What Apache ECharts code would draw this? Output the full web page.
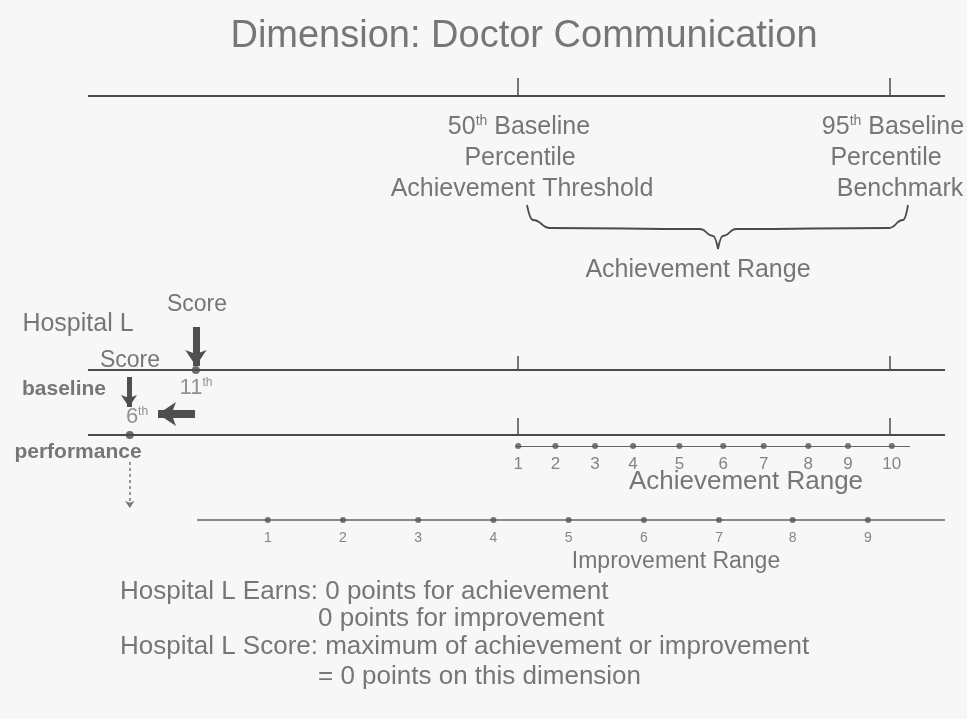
<!DOCTYPE html>
<html>
<head>
  <meta charset="UTF-8">
  <title>Dimension: Doctor Communication</title>
  <script src="https://cdn.jsdelivr.net/npm/echarts@6/dist/echarts.min.js"></script>
  <style>html, body { margin: 0; padding: 0; background: #f7f7f7; }</style>
</head>
<body>
  <div id="main" style="width:967px; height:719px;"></div>
  <script>
    // percentile markers on the baseline scale
    var thresholds = [50, 95];
    var thresholdLabels = ['50', '95'];
    var hospitalScore = 11;        // performance period percentile
    var hospitalBaseline = 6;      // baseline percentile
    var baselineDrawnAt = 3;       // the slide does not draw the baseline to scale
    // achievement points 1..10 between threshold and benchmark
    var achievementPoints = ['1', '2', '3', '4', '5', '6', '7', '8', '9', '10'];
    var achievementPos = [50.0, 54.5, 59.3, 63.9, 69.5, 74.8, 79.7, 85.1, 89.9, 95.2];
    // improvement points 1..9
    var improvementPoints = ['1', '2', '3', '4', '5', '6', '7', '8', '9'];
    var improvementPos = [19.7, 28.8, 37.9, 47.0, 56.1, 65.2, 74.3, 83.2, 92.3];
    var earned = { achievement: 0, improvement: 0, total: 0 };

    var W = 967, H = 719, XMIN = -12.7, XMAX = 104.3;
    function px(x) { return XMIN + x * (XMAX - XMIN) / W; }   // pixel column -> percentile axis

    var INK = '#4b4b4b', TXT = '#555555', FONT = 'Liberation Sans, Arial, sans-serif';
    var rowTop = 96, rowScore = 370, rowBase = 435, rowAch = 446, rowImp = 520;

    var segs = [];
    function seg(a, b, style) { segs.push({ coords: [a, b], lineStyle: style || {} }); }
    seg([px(88), rowTop], [px(945), rowTop]);
    seg([px(88), rowScore], [px(945), rowScore]);
    seg([px(88), rowBase], [px(945), rowBase]);
    thresholds.forEach(function (t) {
      seg([t, rowTop - 18], [t, rowTop], { width: 1.5 });
      seg([t, rowScore - 14], [t, rowScore], { width: 1.5 });
      seg([t, rowBase - 17], [t, rowBase], { width: 1.5 });
    });
    seg([px(515), rowAch], [px(910), rowAch], { width: 1.2, color: '#666' });
    seg([px(197), rowImp], [px(945), rowImp], { width: 1.6, color: '#666' });

    var texts = [];
    function txt(s, x, y, size, opt) {
      opt = opt || {};
      texts.push({
        value: [px(x), y],
        label: {
          formatter: s, fontSize: size, color: opt.color || TXT, fontFamily: FONT,
          fontWeight: opt.weight || 'normal', align: opt.align || 'center',
          verticalAlign: 'middle', position: 'inside',
          rich: { sup: { fontSize: Math.round(size * 0.55), verticalAlign: 'top', fontFamily: FONT, color: opt.color || TXT } }
        }
      });
    }
    txt('Dimension: Doctor Communication', 524, 37, 38);
    txt(thresholdLabels[0] + '{sup|th} Baseline', 519, 127, 25);
    txt('Percentile', 520, 158, 25);
    txt('Achievement Threshold', 522, 189, 25);
    txt(thresholdLabels[1] + '{sup|th} Baseline', 893, 127, 25);
    txt('Percentile', 886, 158, 25);
    txt('Benchmark', 900, 189, 25);
    txt('Achievement Range', 698, 270, 25);
    txt('Score', 197, 305, 23);
    txt('Hospital L', 78, 324, 25);
    txt('Score', 130, 361, 23);
    txt('baseline', 64, 389, 21, { weight: 'bold' });
    txt(hospitalScore + '{sup|th}', 196, 388, 22, { color: '#777' });
    txt(hospitalBaseline + '{sup|th}', 137, 417, 22, { color: '#777' });
    txt('performance', 78, 452, 21, { weight: 'bold' });
    txt('Achievement Range', 746, 482, 26);
    txt('Improvement Range', 676, 562, 23);
    txt('Hospital L Earns: ' + earned.achievement + ' points for achievement', 120, 592, 26, { align: 'left' });
    txt(earned.improvement + ' points for improvement', 318, 619, 26, { align: 'left' });
    txt('Hospital L Score: maximum of achievement or improvement', 120, 647, 26, { align: 'left' });
    txt('= ' + earned.total + ' points on this dimension', 318, 677, 26, { align: 'left' });

    var achLabels = achievementPos.map(function (p, i) {
      return { value: [p, 464], label: { formatter: achievementPoints[i] } };
    });
    var impLabels = improvementPos.map(function (p, i) {
      return { value: [p, 538], label: { formatter: improvementPoints[i] } };
    });

    var arrows = [
      { coords: [[hospitalScore, 327], [hospitalScore, 366]], lineStyle: { width: 7 }, symbolSize: 16 },
      { coords: [[px(129), 377], [px(129), 407]], lineStyle: { width: 5 }, symbolSize: 12 },
      { coords: [[px(195), 414], [px(158), 414]], lineStyle: { width: 8 }, symbolSize: 18 },
      { coords: [[baselineDrawnAt, 462], [baselineDrawnAt, 508]], lineStyle: { width: 1.5, type: [3, 3], color: '#777' }, symbolSize: 7 }
    ];

    var braceL = [[px(527), 205], [px(533), 220], [px(550), 228], [px(700), 229], [px(713), 236], [px(718), 249]];
    var braceR = [[px(718), 249], [px(723), 236], [px(736), 229], [px(889), 228], [px(903), 220], [px(908), 205]];

    var chart = echarts.init(document.getElementById('main'), null, { renderer: 'canvas' });
    chart.setOption({
      backgroundColor: '#f7f7f7',
      animation: false,
      grid: { left: 0, right: 0, top: 0, bottom: 0 },
      xAxis: { type: 'value', min: XMIN, max: XMAX, show: false },
      yAxis: { type: 'value', min: 0, max: H, inverse: true, show: false },
      series: [
        { type: 'lines', coordinateSystem: 'cartesian2d', silent: true,
          lineStyle: { color: INK, width: 2, opacity: 1 }, data: segs },
        { type: 'lines', coordinateSystem: 'cartesian2d', silent: true,
          symbol: ['none', 'arrow'], lineStyle: { color: '#4f4f4f', opacity: 1 }, data: arrows },
        { type: 'line', data: braceL, smooth: true, smoothMonotone: 'x', showSymbol: false, silent: true,
          lineStyle: { color: INK, width: 1.8 } },
        { type: 'line', data: braceR, smooth: true, smoothMonotone: 'x', showSymbol: false, silent: true,
          lineStyle: { color: INK, width: 1.8 } },
        { type: 'scatter', silent: true, symbolSize: 8, itemStyle: { color: INK },
          data: [[hospitalScore, rowScore], [baselineDrawnAt, rowBase]] },
        { type: 'scatter', silent: true, symbolSize: 6, itemStyle: { color: '#555' },
          data: achievementPos.map(function (p) { return [p, rowAch]; })
            .concat(improvementPos.map(function (p) { return [p, rowImp]; })) },
        { type: 'scatter', silent: true, symbolSize: 0, data: texts,
          label: { show: true } },
        { type: 'scatter', silent: true, symbolSize: 0, data: achLabels,
          label: { show: true, position: 'inside', fontSize: 17, color: '#666', fontFamily: FONT } },
        { type: 'scatter', silent: true, symbolSize: 0, data: impLabels,
          label: { show: true, position: 'inside', fontSize: 14, color: '#666', fontFamily: FONT } }
      ]
    });
  </script>
</body>
</html>
